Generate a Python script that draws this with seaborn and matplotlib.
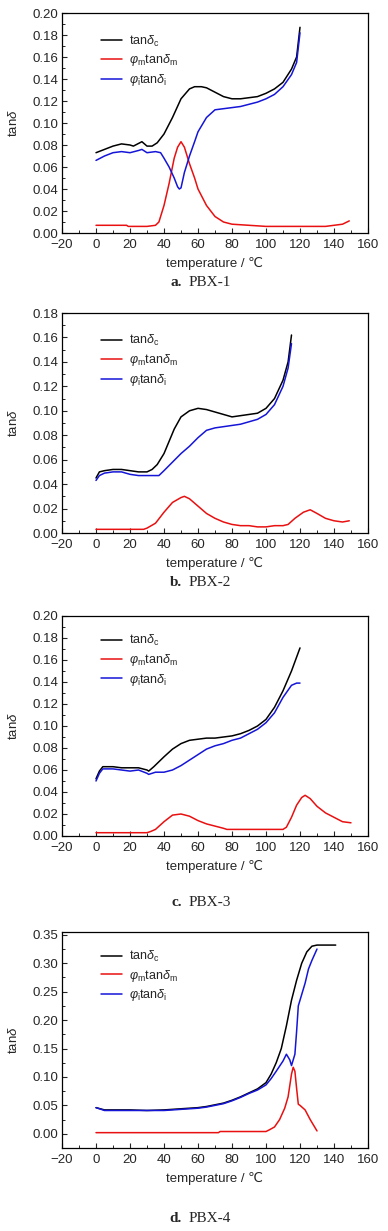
import numpy as np
import pandas as pd
import matplotlib
matplotlib.use("Agg")
import matplotlib.pyplot as plt
import seaborn as sns
from matplotlib.ticker import MultipleLocator

# ---------------- data ----------------
# Panel a: PBX-1
a_c_x = [0, 5, 10, 15, 20, 22, 27, 30, 33, 36, 40, 45, 50, 55, 58, 62, 65, 70, 75, 80, 85, 90, 95, 100, 105, 110, 115, 118, 120]
a_c_y = [0.073, 0.076, 0.079, 0.081, 0.080, 0.079, 0.083, 0.079, 0.079, 0.082, 0.090, 0.105, 0.122, 0.131, 0.133, 0.133, 0.132, 0.128, 0.124, 0.122, 0.122, 0.123, 0.124, 0.127, 0.131, 0.137, 0.149, 0.160, 0.187]
a_i_x = [0, 5, 10, 15, 20, 25, 27, 30, 35, 38, 40, 43, 46, 48, 49, 50, 52, 55, 58, 60, 65, 70, 75, 80, 85, 90, 95, 100, 105, 110, 115, 118, 120]
a_i_y = [0.066, 0.070, 0.073, 0.074, 0.073, 0.075, 0.076, 0.073, 0.074, 0.073, 0.068, 0.060, 0.050, 0.042, 0.040, 0.041, 0.055, 0.070, 0.083, 0.092, 0.105, 0.112, 0.113, 0.114, 0.115, 0.117, 0.119, 0.122, 0.126, 0.133, 0.144, 0.155, 0.182]
a_m_x = [0, 18, 19, 30, 35, 37, 40, 43, 46, 48, 50, 52, 55, 58, 60, 65, 70, 75, 80, 90, 100, 110, 120, 130, 135, 140, 145, 149]
a_m_y = [0.007, 0.007, 0.006, 0.006, 0.007, 0.010, 0.025, 0.045, 0.068, 0.078, 0.083, 0.078, 0.063, 0.050, 0.040, 0.025, 0.015, 0.010, 0.008, 0.007, 0.006, 0.006, 0.006, 0.006, 0.006, 0.007, 0.008, 0.011]

# Panel b: PBX-2
b_c_x = [0, 2, 5, 10, 15, 20, 25, 30, 33, 36, 40, 43, 46, 50, 55, 60, 65, 70, 75, 80, 85, 90, 95, 100, 105, 110, 113, 115]
b_c_y = [0.045, 0.050, 0.051, 0.052, 0.052, 0.051, 0.050, 0.050, 0.052, 0.056, 0.065, 0.075, 0.085, 0.095, 0.100, 0.102, 0.101, 0.099, 0.097, 0.095, 0.096, 0.097, 0.098, 0.102, 0.110, 0.125, 0.140, 0.162]
b_i_x = [0, 2, 5, 10, 15, 20, 25, 30, 37, 40, 45, 50, 55, 60, 65, 70, 75, 80, 85, 90, 95, 100, 105, 110, 113, 115]
b_i_y = [0.043, 0.047, 0.049, 0.050, 0.050, 0.048, 0.047, 0.047, 0.047, 0.051, 0.058, 0.065, 0.071, 0.078, 0.084, 0.086, 0.087, 0.088, 0.089, 0.091, 0.093, 0.097, 0.105, 0.120, 0.135, 0.155]
b_m_x = [0, 28, 30, 35, 40, 45, 50, 52, 55, 60, 65, 70, 75, 80, 85, 90, 95, 100, 105, 110, 113, 117, 122, 126, 130, 135, 140, 145, 149]
b_m_y = [0.003, 0.003, 0.004, 0.008, 0.017, 0.025, 0.029, 0.030, 0.028, 0.022, 0.016, 0.012, 0.009, 0.007, 0.006, 0.006, 0.005, 0.005, 0.006, 0.006, 0.007, 0.012, 0.017, 0.019, 0.016, 0.012, 0.010, 0.009, 0.010]

# Panel c: PBX-3
c_c_x = [0, 2, 4, 10, 15, 20, 25, 30, 31, 34, 40, 45, 50, 55, 60, 65, 70, 75, 80, 85, 90, 95, 100, 105, 110, 115, 120]
c_c_y = [0.052, 0.059, 0.063, 0.063, 0.062, 0.062, 0.062, 0.060, 0.059, 0.063, 0.072, 0.079, 0.084, 0.087, 0.088, 0.089, 0.089, 0.090, 0.091, 0.093, 0.096, 0.100, 0.106, 0.117, 0.132, 0.150, 0.171]
c_i_x = [0, 2, 4, 10, 15, 20, 25, 30, 31, 35, 40, 45, 50, 55, 60, 65, 70, 75, 80, 85, 90, 95, 100, 105, 110, 115, 118, 120]
c_i_y = [0.050, 0.057, 0.061, 0.061, 0.060, 0.059, 0.060, 0.057, 0.056, 0.058, 0.058, 0.060, 0.064, 0.069, 0.074, 0.079, 0.082, 0.084, 0.087, 0.089, 0.093, 0.097, 0.103, 0.112, 0.126, 0.137, 0.139, 0.139]
c_m_x = [0, 30, 32, 35, 40, 45, 50, 55, 60, 65, 70, 75, 77, 80, 90, 100, 110, 112, 115, 118, 121, 123, 126, 130, 135, 140, 145, 150]
c_m_y = [0.003, 0.003, 0.004, 0.006, 0.013, 0.019, 0.020, 0.018, 0.014, 0.011, 0.009, 0.007, 0.006, 0.006, 0.006, 0.006, 0.006, 0.008, 0.017, 0.028, 0.035, 0.037, 0.034, 0.027, 0.021, 0.017, 0.013, 0.012]

# Panel d: PBX-4
d_c_x = [0, 5, 10, 20, 30, 40, 50, 60, 65, 70, 75, 80, 85, 90, 95, 100, 103, 106, 109, 112, 115, 118, 121, 124, 127, 130, 141]
d_c_y = [0.046, 0.042, 0.042, 0.042, 0.041, 0.042, 0.044, 0.046, 0.048, 0.051, 0.054, 0.059, 0.065, 0.072, 0.079, 0.090, 0.105, 0.125, 0.150, 0.190, 0.235, 0.270, 0.300, 0.320, 0.330, 0.332, 0.332]
d_i_x = [0, 5, 10, 20, 30, 40, 50, 60, 65, 70, 75, 80, 85, 90, 95, 100, 103, 106, 110, 112, 114, 115, 117, 118, 119, 121, 123, 125, 127, 130]
d_i_y = [0.046, 0.041, 0.041, 0.041, 0.041, 0.041, 0.043, 0.045, 0.047, 0.050, 0.053, 0.058, 0.064, 0.071, 0.077, 0.086, 0.097, 0.110, 0.128, 0.140, 0.130, 0.120, 0.140, 0.180, 0.225, 0.245, 0.265, 0.290, 0.305, 0.325]
d_m_x = [0, 72, 73, 100, 102, 105, 108, 111, 113, 115, 116, 117, 118, 119, 120, 123, 126, 130]
d_m_y = [0.002, 0.002, 0.004, 0.004, 0.007, 0.012, 0.025, 0.045, 0.065, 0.105, 0.117, 0.110, 0.080, 0.052, 0.050, 0.042, 0.025, 0.005]

series_labels = [r'tan$\delta_{\rm c}$', r'$\varphi_{\rm m}$tan$\delta_{\rm m}$', r'$\varphi_{\rm i}$tan$\delta_{\rm i}$']
series_colors = ['black', '#e81010', '#1515d8']
captions = [('a.', 'PBX-1'), ('b.', 'PBX-2'), ('c.', 'PBX-3'), ('d.', 'PBX-4')]
x_ticks = [-20, 0, 20, 40, 60, 80, 100, 120, 140, 160]

panels = [
    dict(c=(a_c_x, a_c_y), m=(a_m_x, a_m_y), i=(a_i_x, a_i_y), ylim=(0, 0.20), ystep=0.02, fmt='%.2f'),
    dict(c=(b_c_x, b_c_y), m=(b_m_x, b_m_y), i=(b_i_x, b_i_y), ylim=(0, 0.18), ystep=0.02, fmt='%.2f'),
    dict(c=(c_c_x, c_c_y), m=(c_m_x, c_m_y), i=(c_i_x, c_i_y), ylim=(0, 0.20), ystep=0.02, fmt='%.2f'),
    dict(c=(d_c_x, d_c_y), m=(d_m_x, d_m_y), i=(d_i_x, d_i_y), ylim=(-0.025, 0.355), ystep=0.05, fmt='%.2f'),
]

# ---------------- style ----------------
sns.set_style("ticks")
plt.rcParams['font.family'] = ['Liberation Sans', 'DejaVu Sans']
plt.rcParams['mathtext.fontset'] = 'custom'
plt.rcParams['mathtext.rm'] = 'Liberation Sans'
plt.rcParams['mathtext.it'] = 'Liberation Sans:italic'
plt.rcParams['xtick.direction'] = 'in'
plt.rcParams['ytick.direction'] = 'in'

W, H = 388, 1231
fig = plt.figure(figsize=(W / 100, H / 100), dpi=100)

# axes boxes in pixels: (top, bottom)
boxes = [(13, 233), (313, 533), (616, 836), (932, 1148)]
legend_top = [0.93, 0.93, 0.945, 0.945]
cap_y = [283, 583, 903, 1218]
left_px, right_px = 62, 368

for k, (p, (top, bot)) in enumerate(zip(panels, boxes)):
    ax = fig.add_axes([left_px / W, 1 - bot / H, (right_px - left_px) / W, (bot - top) / H])
    for key, lab, col in zip(['c', 'm', 'i'], series_labels, series_colors):
        xs, ys = p[key]
        df = pd.DataFrame({'T': xs, 'v': ys})
        sns.lineplot(data=df, x='T', y='v', ax=ax, color=col, lw=1.1, label=lab, sort=False)
    ax.set_xlim(-20, 160)
    ax.set_ylim(*p['ylim'])
    ax.set_xticks(x_ticks)
    ax.xaxis.set_minor_locator(MultipleLocator(10))
    ax.yaxis.set_major_locator(MultipleLocator(p['ystep']))
    ax.yaxis.set_minor_locator(MultipleLocator(p['ystep'] / 2))
    ax.yaxis.set_major_formatter(matplotlib.ticker.FormatStrFormatter(p['fmt']))
    ax.tick_params(which='major', length=3.5, width=0.8, labelsize=9.5, top=False, right=False)
    ax.tick_params(axis='x', which='major', pad=4.5)
    ax.tick_params(axis='y', which='major', pad=2.5)
    ax.tick_params(which='minor', length=2, width=0.7, top=False, right=False)
    for s in ax.spines.values():
        s.set_linewidth(0.9)
        s.set_color('black')
    ax.set_xlabel('temperature / ℃', fontsize=9.5, labelpad=4)
    ax.set_ylabel(r'tan$\delta$', fontsize=9.5, labelpad=9)
    leg = ax.legend(loc='upper left', bbox_to_anchor=(0.11, legend_top[k]), frameon=False, fontsize=9,
                    handlelength=1.7, handletextpad=0.55, labelspacing=0.3, borderaxespad=0)
    cx = 184 / W
    fig.text(cx - 0.005, 1 - cap_y[k] / H, captions[k][0], ha='right', va='center',
             family=['Liberation Serif'], fontweight='bold', fontsize=11)
    fig.text(cx + 0.012, 1 - cap_y[k] / H, captions[k][1], ha='left', va='center',
             family=['Liberation Serif'], fontsize=11)

fig.savefig('out.png', dpi=100, facecolor='white')
